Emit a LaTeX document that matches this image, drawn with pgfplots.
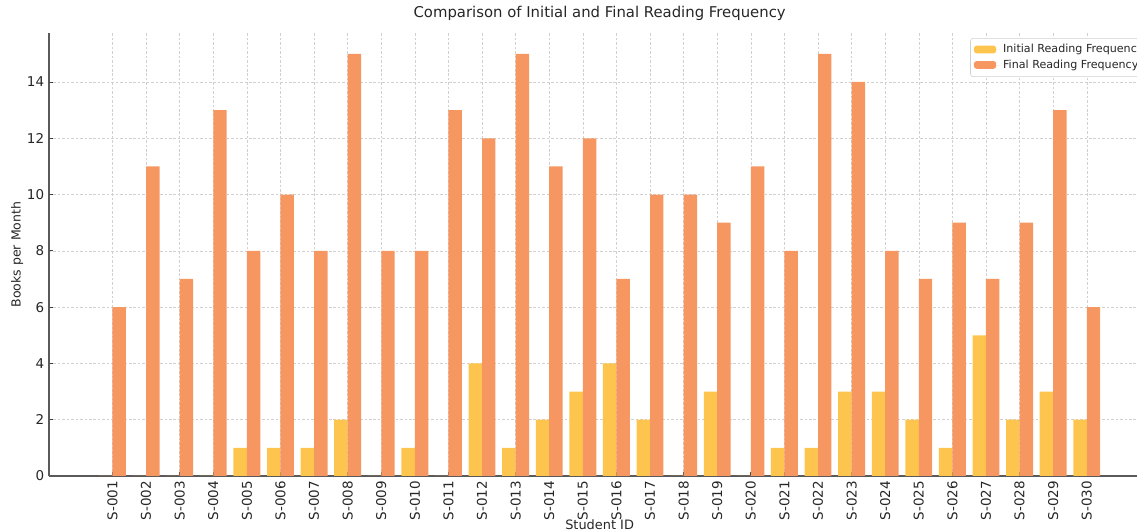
\documentclass[border=0pt]{standalone}
\usepackage{fontspec}
\setmainfont{DejaVu Sans}
\usepackage{pgfplots}
\pgfplotsset{compat=1.18}
\usepackage{pgfplotstable}
\definecolor{initc}{HTML}{FDC54E}
\definecolor{finc}{HTML}{F69762}
\definecolor{gridc}{HTML}{D0D0D0}
\definecolor{spinec}{HTML}{5A5A5A}
\pgfplotstableread{
id ini fin
1 0 6
2 0 11
3 0 7
4 0 13
5 1 8
6 1 10
7 1 8
8 2 15
9 0 8
10 1 8
11 0 13
12 4 12
13 1 15
14 2 11
15 3 12
16 4 7
17 2 10
18 0 10
19 3 9
20 0 11
21 1 8
22 1 15
23 3 14
24 3 8
25 2 7
26 1 9
27 5 7
28 2 9
29 3 13
30 2 6
}\datatable
\begin{document}
\begin{tikzpicture}
\useasboundingbox (-35.28pt,-39.6pt) rectangle (783.36pt,342.72pt);
\begin{pgfinterruptboundingbox}
\clip (-35.28pt,-39.6pt) rectangle (783.36pt,342.72pt);
\begin{axis}[
  at={(0,0)}, anchor=south west,
  scale only axis, width=792.9pt, height=318.96pt,
  xmin=-0.89, xmax=31.89, ymin=0, ymax=15.74,
  ybar,
  axis x line*=bottom, axis y line*=left,
  axis line style={draw=spinec, line width=0.9pt, -},
  xtick={1,...,30},
  xticklabels={S-001,S-002,S-003,S-004,S-005,S-006,S-007,S-008,S-009,S-010,S-011,S-012,S-013,S-014,S-015,S-016,S-017,S-018,S-019,S-020,S-021,S-022,S-023,S-024,S-025,S-026,S-027,S-028,S-029,S-030},
  ytick={0,2,...,14},
  tick align=inside, major tick length=3pt,
  tick style={draw=black!75, line width=0.6pt},
  grid=major, grid style={draw=gridc, line width=0.35pt, dash pattern=on 1.8pt off 1.4pt},
  xticklabel style={rotate=90, anchor=east, font=\fontsize{9.7}{11}\selectfont, text=black!85},
  yticklabel style={font=\fontsize{9.7}{11}\selectfont, text=black!85},
  /pgf/number format/assume math mode=true,
  title={Comparison of Initial and Final Reading Frequency},
  title style={at={(axis description cs:0.5,1.0158)}, anchor=base, font=\fontsize{10.7}{12}\selectfont, text=black!85},
  xlabel={Student ID},
  xlabel style={at={(axis description cs:0.5,-0.097)}, anchor=north, inner sep=0pt, font=\fontsize{9.3}{11}\selectfont, text=black!85},
  ylabel={Books per Month},
  ylabel style={at={(axis description cs:-0.029,0.5)}, anchor=center, font=\fontsize{9}{11}\selectfont, text=black!85},
  legend cell align=left,
  legend style={at={(axis description cs:0.8365,0.9887)}, anchor=north west, draw=gridc, rounded corners=2pt, fill=white, font=\fontsize{8}{9}\selectfont, text=black!85, inner sep=2.5pt, row sep=-0.5pt},
  legend image code/.code={\fill[#1] (0pt,-2.6pt) rectangle (16pt,3pt); \path (0pt,0pt) -- (19pt,0pt);},
]
\addplot[bar width=0.4, bar shift=-0.2, fill=initc, draw=none] table[x=id,y=ini]{\datatable};
\addplot[bar width=0.4, bar shift=0.2, fill=finc, draw=none] table[x=id,y=fin]{\datatable};
\legend{Initial Reading Frequency, Final Reading Frequency}
\end{axis}
\end{pgfinterruptboundingbox}
\end{tikzpicture}
\end{document}
